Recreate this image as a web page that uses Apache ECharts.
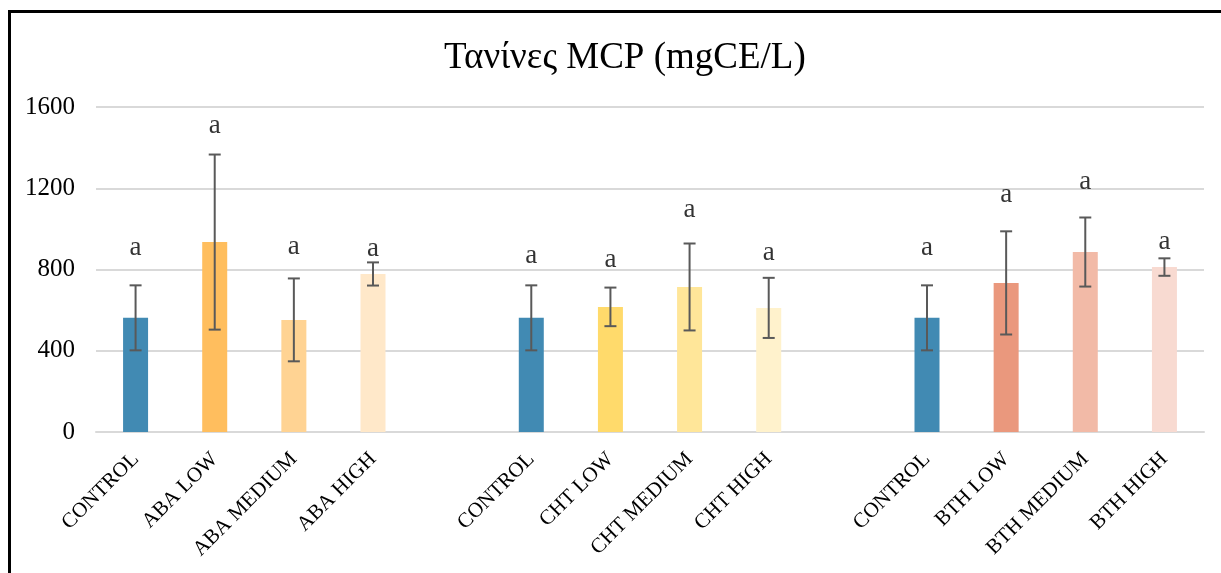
<!DOCTYPE html>
<html>
<head>
<meta charset="utf-8">
<script src="https://cdn.jsdelivr.net/npm/echarts@6/dist/echarts.min.js"></script>
<style>
html,body{margin:0;padding:0;background:#fff;}
#chart{width:1221px;height:573px;}
</style>
</head>
<body>
<div id="chart"></div>
<script>
// ---- data ----
var titleText = 'Τανίνες MCP (mgCE/L)';
var categories = ['CONTROL','ABA LOW','ABA MEDIUM','ABA HIGH','',
                  'CONTROL','CHT LOW','CHT MEDIUM','CHT HIGH','',
                  'CONTROL','BTH LOW','BTH MEDIUM','BTH HIGH'];
var values = [562, 935, 552, 778, null, 562, 616, 714, 611, null, 562, 734, 886, 812];
var errors = [160, 431, 204, 57, null, 160, 95, 214, 148, null, 160, 254, 170, 43];
var letters = ['a','a','a','a','', 'a','a','a','a','', 'a','a','a','a'];
var letterPos = [905, 1509, 910, 900, null, 867, 847, 1093, 882, null, 905, 1167, 1229, 934];
var yTicks = [0, 400, 800, 1200, 1600];
var barColors = ['#418AB3','#FFBE5E','#FFD393','#FFE8C9','#ffffff',
                 '#418AB3','#FFDA6B','#FFE699','#FFF2CC','#ffffff',
                 '#418AB3','#EA987D','#F2BAA7','#F8DAD1'];

var FONT = "'Liberation Serif','Times New Roman',serif";

var chart = echarts.init(document.getElementById('chart'));

var barData = values.map(function(v, i){
  return {value: v, itemStyle: {color: barColors[i]}};
});
var errData = values.map(function(v, i){
  return v == null ? [i, null, null] : [i, v - errors[i], v + errors[i]];
});
var letterData = letterPos.map(function(p, i){
  return p == null ? [i, null] : [i, p];
});

chart.setOption({
  animation: false,
  backgroundColor: '#ffffff',
  title: {
    text: titleText,
    left: 439,
    top: 35,
    textStyle: {fontFamily: FONT, fontSize: 37, fontWeight: 'normal', color: '#000'}
  },
  graphic: [{
    type: 'rect',
    silent: true,
    shape: {x: 9.5, y: 11.5, width: 1400, height: 800},
    style: {fill: 'none', stroke: '#000', lineWidth: 3},
    z: 100
  }],
  grid: {left: 96, right: 17, top: 107, bottom: 141, containLabel: false},
  xAxis: {
    type: 'category',
    data: categories,
    axisTick: {show: false},
    axisLine: {show: true, lineStyle: {color: '#d9d9d9', width: 2}},
    axisLabel: {
      interval: 0, rotate: 45, margin: 24,
      fontFamily: FONT, fontSize: 21, color: '#000'
    }
  },
  yAxis: {
    type: 'value',
    min: 0, max: 1600, interval: 400,
    axisLine: {show: false},
    axisTick: {show: false},
    splitLine: {lineStyle: {color: '#d9d9d9', width: 2}},
    axisLabel: {
      margin: 21, fontFamily: FONT, fontSize: 25, color: '#000',
      formatter: function(v){ return yTicks.indexOf(v) >= 0 ? String(v) : ''; }
    }
  },
  series: [
    {
      type: 'bar',
      data: barData,
      barWidth: 25,
      z: 2
    },
    {
      type: 'custom',
      data: errData,
      z: 3,
      renderItem: function(params, api){
        var lo = api.value(1), hi = api.value(2);
        if (lo == null || hi == null || isNaN(lo) || isNaN(hi)) return;
        var p1 = api.coord([api.value(0), lo]);
        var p2 = api.coord([api.value(0), hi]);
        var hw = 6;
        var st = {stroke: '#595959', lineWidth: 2, fill: 'none'};
        return {
          type: 'group',
          children: [
            {type: 'line', shape: {x1: p1[0], y1: p1[1], x2: p2[0], y2: p2[1]}, style: st},
            {type: 'line', shape: {x1: p1[0]-hw, y1: p1[1], x2: p1[0]+hw, y2: p1[1]}, style: st},
            {type: 'line', shape: {x1: p2[0]-hw, y1: p2[1], x2: p2[0]+hw, y2: p2[1]}, style: st}
          ]
        };
      }
    },
    {
      type: 'scatter',
      data: letterData,
      symbolSize: 1,
      itemStyle: {color: 'rgba(0,0,0,0)'},
      z: 4,
      label: {
        show: true,
        position: 'inside',
        fontFamily: FONT,
        fontSize: 27,
        color: '#000',
        formatter: function(p){ return letters[p.dataIndex]; }
      }
    }
  ]
});
</script>
</body>
</html>
